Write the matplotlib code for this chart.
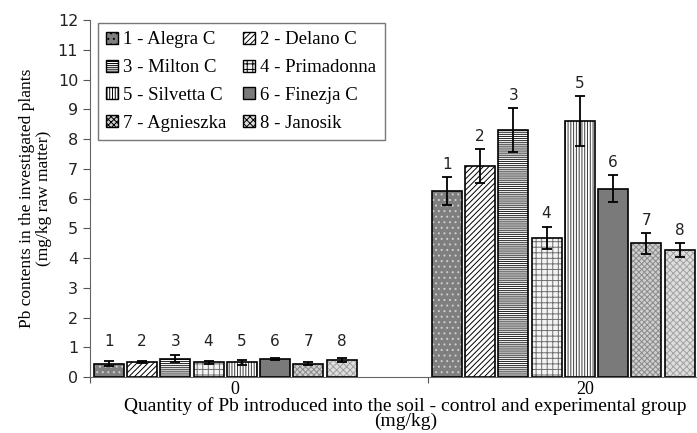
import matplotlib
matplotlib.use("Agg")
import matplotlib.pyplot as plt
from matplotlib.patches import Patch
import numpy as np

groups = ["0", "20"]
varieties = ["1 - Alegra C", "2 - Delano C", "3 - Milton C", "4 - Primadonna",
             "5 - Silvetta C", "6 - Finezja C", "7 - Agnieszka", "8 - Janosik"]
bar_numbers = ["1", "2", "3", "4", "5", "6", "7", "8"]
values_0 = [0.45, 0.50, 0.62, 0.49, 0.49, 0.61, 0.45, 0.58]
errors_0 = [0.09, 0.03, 0.11, 0.04, 0.09, 0.03, 0.04, 0.06]
values_20 = [6.25, 7.08, 8.30, 4.67, 8.59, 6.33, 4.49, 4.26]
errors_20 = [0.46, 0.57, 0.73, 0.38, 0.84, 0.45, 0.34, 0.23]
yticks = list(range(0, 13))

styles = [
    dict(fc="#7f7f7f", hatch="...", hc="#cfcfcf"),
    dict(fc="white", hatch="//////", hc="black"),
    dict(fc="white", hatch="--------", hc="#222222"),
    dict(fc="#f4f4f4", hatch="+++", hc="#6f6f6f"),
    dict(fc="white", hatch="||||||", hc="#3a3a3a"),
    dict(fc="#7a7a7a", hatch=None, hc=None),
    dict(fc="#cfcfcf", hatch="xxxxxx", hc="#8a8a8a"),
    dict(fc="#dedede", hatch="xxxxx", hc="#a0a0a0"),
]

plt.rcParams["hatch.linewidth"] = 0.7
fig = plt.figure(figsize=(6.97, 4.33), dpi=100)
ax = fig.add_axes([90/697, 56/433, 607/697, 357/433])

slot = 0.0985
bw = 0.089
start = 0.006
serif = "Liberation Serif"

handles = []
for gi, (vals, errs) in enumerate([(values_0, errors_0), (values_20, errors_20)]):
    for i, (v, e) in enumerate(zip(vals, errs)):
        st = styles[i]
        x = gi + start + slot * (i + 0.5)
        ax.bar(x, v, width=bw, color=st["fc"], edgecolor="none", zorder=2)
        if st["hatch"]:
            ax.bar(x, v, width=bw, color="none", edgecolor=st["hc"], hatch=st["hatch"],
                   linewidth=0, zorder=3)
        ax.bar(x, v, width=bw, color="none", edgecolor="black", linewidth=1.2, zorder=4)
        ax.errorbar(x, v, yerr=e, color="black", capsize=3.5, elinewidth=1.3,
                    capthick=1.3, zorder=5)
        if gi == 0:
            ax.text(x, 1.18, bar_numbers[i], ha="center", va="center", fontsize=11,
                    color="#222222")
            handles.append(Patch(facecolor=st["fc"], edgecolor="black",
                                 hatch=st["hatch"], linewidth=1.0, label=varieties[i]))
        else:
            ax.annotate(bar_numbers[i], (x, v + e), xytext=(0, 4), textcoords="offset points",
                        ha="center", va="bottom", fontsize=11, color="#222222")

# row-wise legend order for a 2-column legend
order = [0, 2, 4, 6, 1, 3, 5, 7]
handles = [handles[k] for k in order]

ax.set_xlim(0, 607/338)
ax.set_ylim(0, 12)
ax.set_yticks(yticks)
ax.tick_params(axis="y", direction="out", length=5, labelsize=11.5, color="#555555",
               labelcolor="#222222")
ax.set_xticks([0, 1])
ax.set_xticklabels(["", ""])
ax.tick_params(axis="x", which="major", direction="out", length=4, color="#555555")
ax.set_xticks([0.429, 1.464], minor=True)
ax.set_xticklabels(groups, minor=True, fontfamily=serif, fontsize=13)
ax.tick_params(axis="x", which="minor", length=0, pad=3)
for s in ["top", "right"]:
    ax.spines[s].set_visible(False)
ax.spines["left"].set_color("#666666")
ax.spines["bottom"].set_color("#666666")

ax.set_ylabel("Pb contents in the investigated plants\n(mg/kg raw matter)",
              fontfamily=serif, fontsize=12.5, linespacing=1.1)
ax.yaxis.set_label_coords(-0.062, 0.5)
ax.set_xlabel("Quantity of Pb introduced into the soil - control and experimental group\n(mg/kg)",
              fontfamily=serif, fontsize=14, linespacing=0.82)
ax.xaxis.set_label_coords(0.52, -0.057)
ax.xaxis.label.set_va("top")

leg = ax.legend(handles=handles, ncol=2, loc="upper left", bbox_to_anchor=(0.013, 0.992),
                borderaxespad=0.0,
                prop={"family": serif, "size": 13.5}, frameon=True, fancybox=False,
                edgecolor="#555555", handlelength=0.6, handleheight=0.6, handletextpad=0.3,
                columnspacing=0.9, labelspacing=0.58, borderpad=0.45)
leg.get_frame().set_linewidth(1.0)

fig.savefig("out.png", dpi=100)
